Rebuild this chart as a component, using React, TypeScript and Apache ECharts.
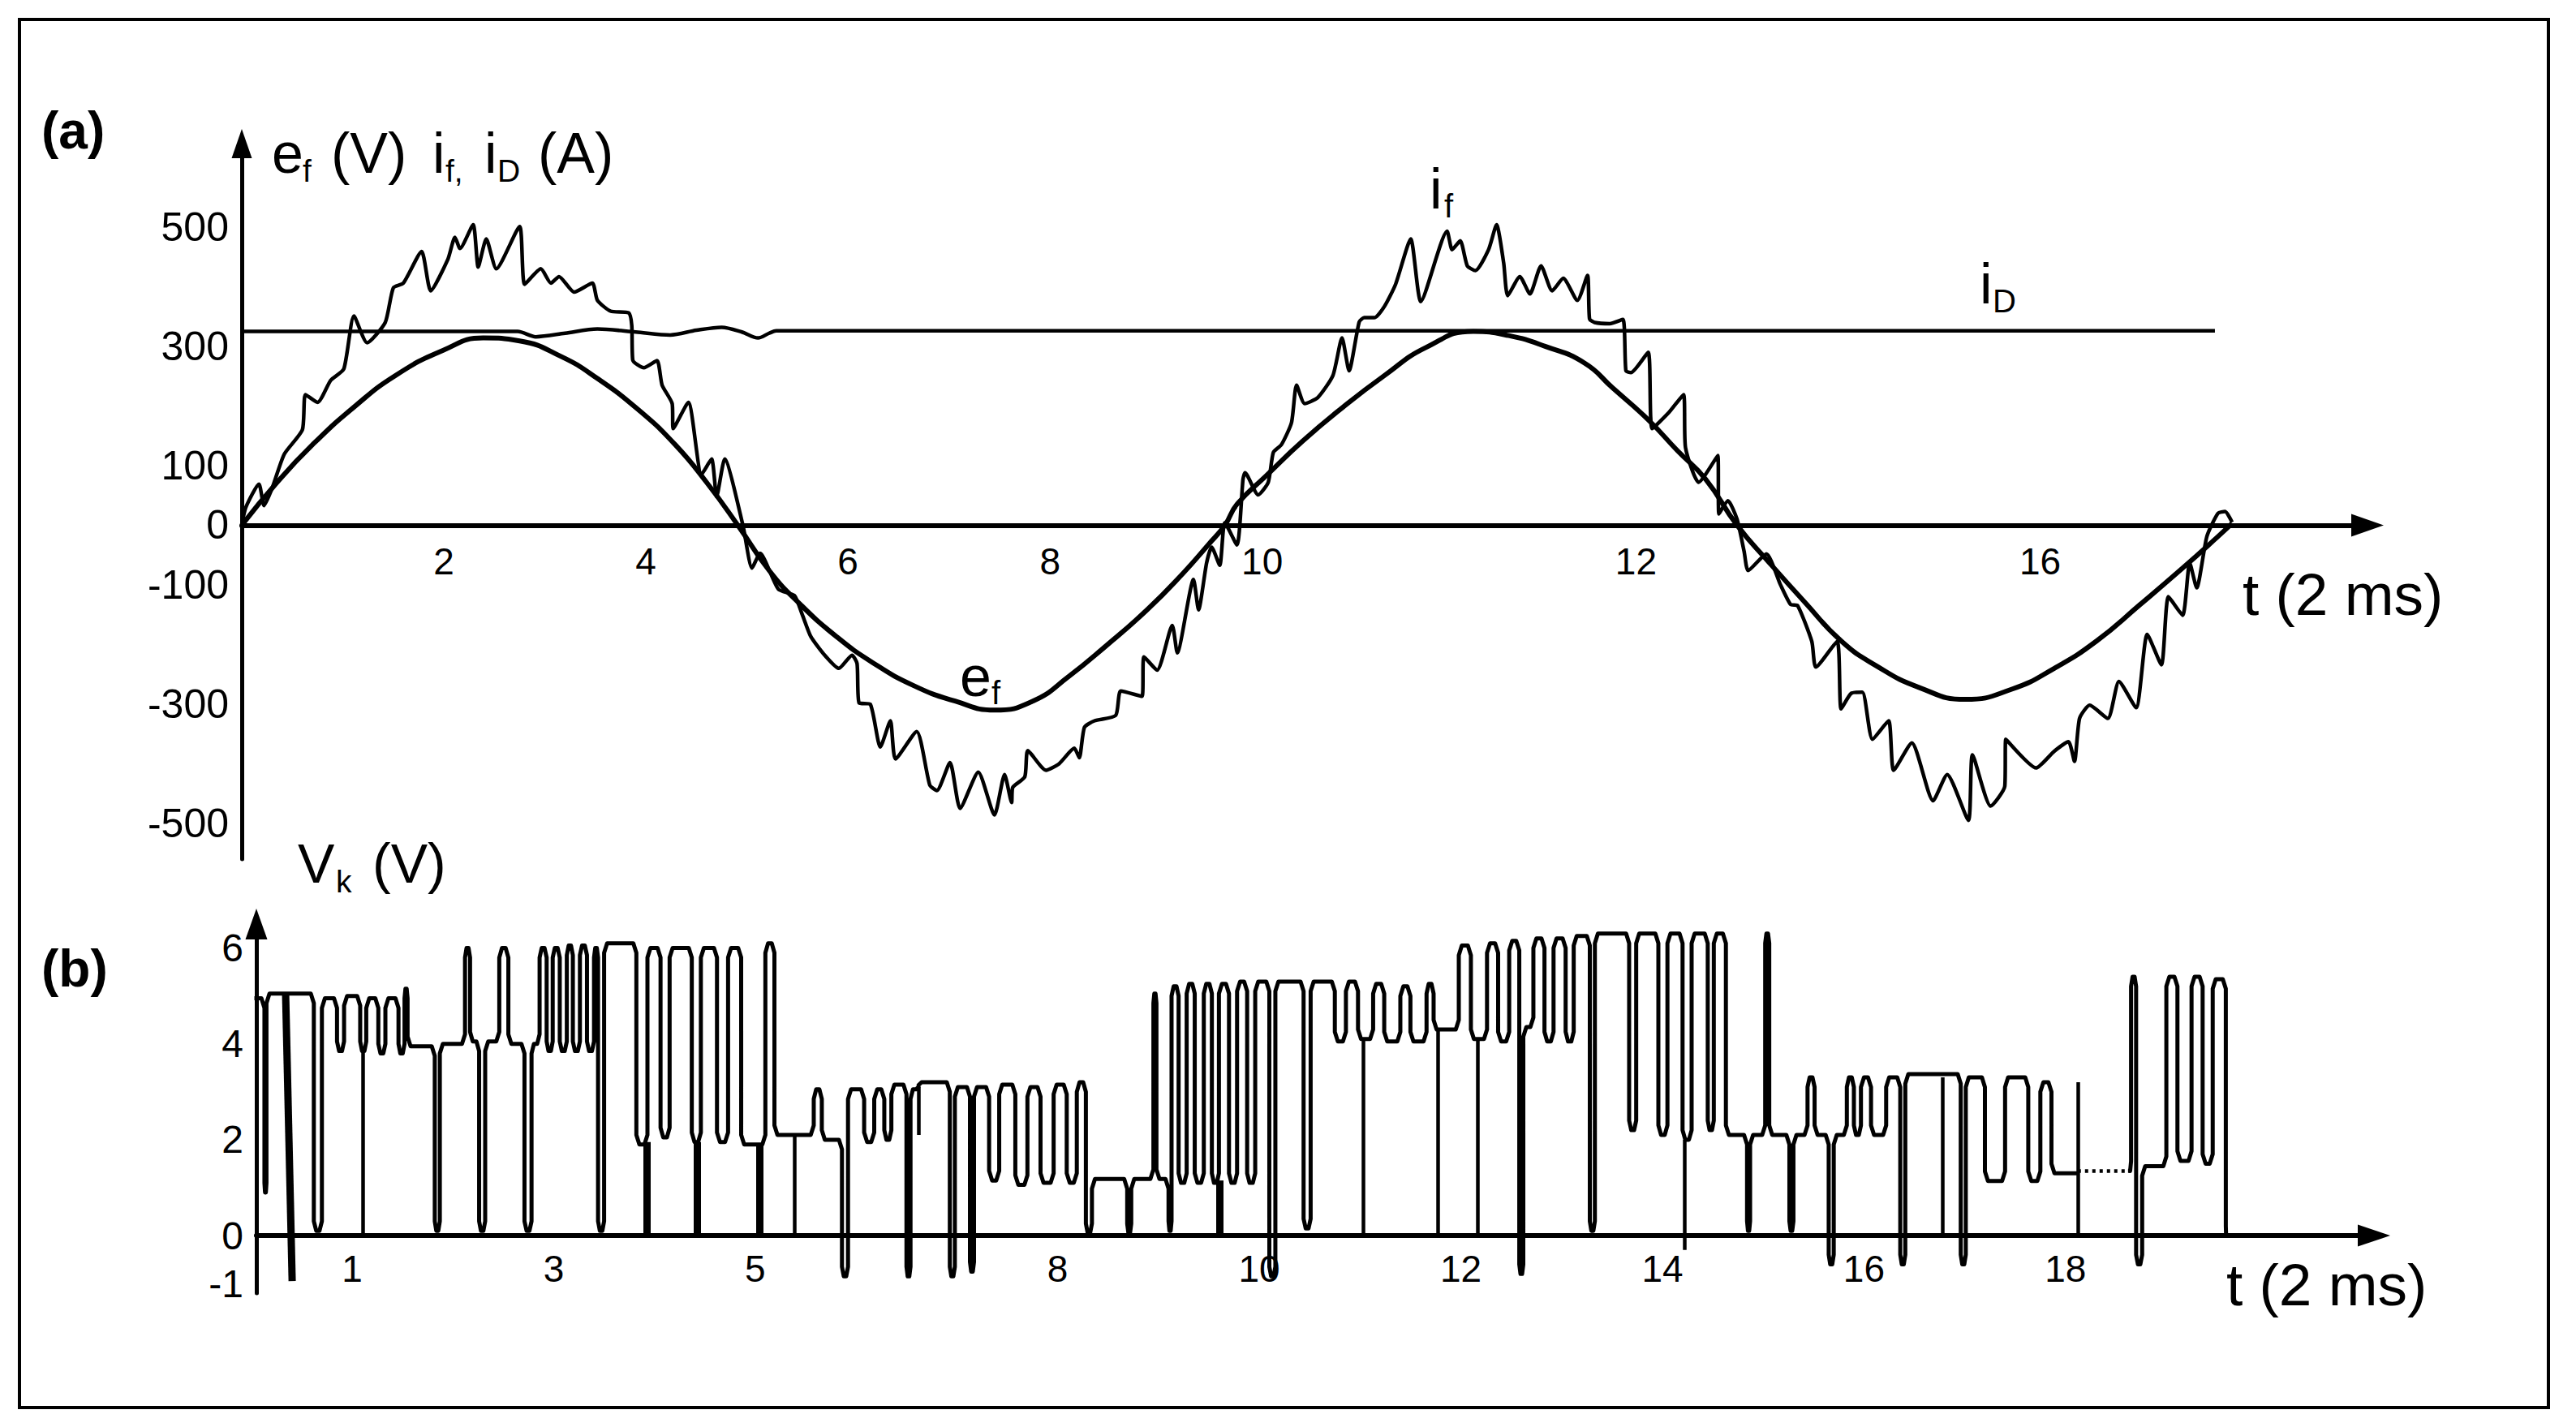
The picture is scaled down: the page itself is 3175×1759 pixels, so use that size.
import React, { useEffect, useRef } from 'react';
import * as echarts from 'echarts';

const FONT = '"Liberation Sans", Arial, Helvetica, sans-serif';

// ---------- Panel (a): e_f (V), i_f, i_D (A) versus t (2 ms) ----------
const efCurve: number[][] = [
  [0, 0], [0.35, 72], [0.7, 135], [1.11, 198], [1.52, 251], [1.99, 293], [2.39, 314], [2.75, 309],
  [3.16, 283], [3.52, 246], [3.93, 193], [4.29, 135], [4.6, 72], [4.91, 0], [5.22, -76], [5.53, -133],
  [5.88, -186], [6.24, -230], [6.65, -269], [7.06, -295], [7.45, -310], [7.83, -295], [8.19, -253],
  [8.55, -203], [8.96, -142], [9.32, -80], [9.57, -32], [9.73, 0], [9.85, 35], [10.14, 83], [10.5, 141],
  [10.9, 198], [11.31, 251], [11.72, 298], [12.19, 325], [12.54, 318], [12.9, 300], [13.29, 272],
  [13.57, 230], [13.92, 177], [14.21, 125], [14.49, 77], [14.8, 0], [15.12, -63], [15.47, -129],
  [15.83, -194], [16.18, -236], [16.6, -272], [17.06, -292], [17.52, -275], [17.94, -240], [18.36, -194],
  [18.79, -133], [19.21, -72], [19.56, -19], [19.7, 3],
];

const ifCurve: number[][] = [
  [0, 0], [0.04, 30], [0.17, 69], [0.22, 33], [0.3, 62], [0.42, 119], [0.6, 160], [0.63, 219], [0.75, 206],
  [0.88, 243], [1.01, 262], [1.11, 351], [1.24, 306], [1.42, 340], [1.5, 398], [1.6, 406], [1.78, 459],
  [1.87, 393], [2.04, 446], [2.11, 483], [2.16, 464], [2.29, 504], [2.34, 433], [2.42, 480], [2.52, 430],
  [2.75, 501], [2.8, 404], [2.96, 430], [3.06, 406], [3.14, 417], [3.29, 391], [3.47, 406], [3.52, 377],
  [3.65, 359], [3.83, 356], [3.86, 335], [3.87, 277], [3.98, 264], [4.11, 276], [4.16, 235], [4.26, 204],
  [4.27, 162], [4.42, 206], [4.55, 85], [4.65, 111], [4.7, 48], [4.78, 111], [4.96, 0],
  [5.05, -72], [5.13, -47], [5.31, -107], [5.47, -118], [5.55, -151], [5.63, -186], [5.76, -216],
  [5.91, -240], [6.04, -218], [6.09, -232], [6.11, -298], [6.22, -300], [6.32, -372], [6.42, -328],
  [6.47, -392], [6.68, -346], [6.81, -436], [6.88, -445], [7.01, -398], [7.11, -475], [7.29, -414],
  [7.45, -486], [7.55, -418], [7.62, -465], [7.63, -440], [7.75, -422], [7.78, -378], [7.96, -411],
  [8.09, -400], [8.24, -374], [8.29, -390], [8.34, -339], [8.44, -328], [8.65, -319], [8.7, -278],
  [8.91, -287], [8.93, -221], [9.06, -243], [9.21, -168], [9.26, -214], [9.42, -91], [9.47, -142],
  [9.55, -63], [9.6, -37], [9.68, -67], [9.73, 4],
  [9.85, -33], [9.91, 77], [9.93, 88], [10.06, 51], [10.16, 72], [10.21, 122], [10.29, 135], [10.39, 172],
  [10.44, 235], [10.52, 204], [10.65, 214], [10.8, 251], [10.89, 314], [10.96, 259], [11.06, 341],
  [11.11, 348], [11.21, 348], [11.31, 367], [11.42, 404], [11.57, 480], [11.67, 375], [11.93, 493],
  [11.98, 462], [12.06, 477], [12.13, 435], [12.21, 427], [12.34, 462], [12.42, 504], [12.49, 440],
  [12.53, 385], [12.65, 417], [12.75, 388], [12.86, 435], [12.97, 393], [13.08, 414], [13.22, 377],
  [13.32, 419], [13.34, 346], [13.39, 340], [13.54, 338], [13.67, 345], [13.7, 259], [13.75, 256],
  [13.92, 290], [13.96, 162], [14.13, 190], [14.27, 219], [14.29, 130], [14.42, 72], [14.61, 117],
  [14.62, 19], [14.71, 41], [14.8, 10], [14.87, -44], [14.91, -76], [15.09, -48], [15.23, -100],
  [15.33, -133], [15.4, -135], [15.54, -195], [15.58, -238], [15.79, -195], [15.83, -308], [15.93, -282],
  [16.04, -280], [16.14, -359], [16.3, -328], [16.35, -411], [16.53, -365], [16.74, -462], [16.88, -418],
  [17.09, -495], [17.13, -385], [17.31, -471], [17.45, -438], [17.46, -359], [17.76, -407], [17.94, -379],
  [18.08, -363], [18.14, -396], [18.19, -324], [18.29, -302], [18.47, -324], [18.58, -262], [18.75, -306],
  [18.86, -183], [19.0, -234], [19.07, -120], [19.21, -151], [19.28, -63], [19.35, -105], [19.45, -19],
  [19.56, 20], [19.63, 23], [19.7, 5],
];

const iDCurve: number[][] = [
  [0, 325], [2.73, 325], [2.91, 316], [3.2, 322], [3.52, 329], [3.9, 324], [4.24, 319], [4.5, 327],
  [4.75, 332], [4.95, 324], [5.11, 314], [5.22, 322], [5.29, 326], [19.53, 326],
];

const aYTicks = [500, 300, 100, 0, -100, -300, -500];
const aXTickPos = [2, 4, 6, 8, 10.1, 13.8, 17.8];
const aXTickText = ['2', '4', '6', '8', '10', '12', '16'];

// ---------- Panel (b): V_k (V) versus t (2 ms) ----------
// [start time, level] plateaus of the switching waveform
const vkStepsA: number[][] = [
  [0.03, 4.95], [0.13, 0.9], [0.15, 5.05], [0.62, 0.1], [0.7, 4.95], [0.85, 3.85], [0.92, 5.0], [1.08, 3.85],
  [1.14, 4.95], [1.26, 3.8], [1.33, 4.95], [1.46, 3.8], [1.52, 5.15], [1.55, 3.95], [1.82, 0.1], [1.87, 4.0],
  [2.12, 6.0], [2.17, 4.05], [2.26, 0.1], [2.32, 4.05], [2.46, 6.0], [2.55, 4.0], [2.71, 0.1], [2.78, 4.0],
  [2.86, 6.0], [2.93, 3.85], [2.99, 6.0], [3.06, 3.85], [3.13, 6.05], [3.19, 3.85], [3.26, 6.05], [3.33, 3.85],
  [3.4, 6.0], [3.44, 0.1], [3.5, 6.1], [3.82, 1.9], [3.93, 6.0], [4.06, 2.05], [4.15, 6.0], [4.37, 1.95],
  [4.46, 6.0], [4.62, 1.95], [4.73, 6.0], [4.86, 1.9], [5.1, 6.1], [5.19, 2.1], [5.58, 3.05], [5.66, 2.0],
  [5.86, -0.85], [5.92, 3.05], [6.08, 1.95], [6.18, 3.05], [6.28, 2.0], [6.35, 3.15], [6.5, -0.85],
  [6.54, 3.05], [6.62, 3.2], [6.93, -0.85], [6.98, 3.1], [7.13, -0.75], [7.17, 3.1], [7.32, 1.15],
  [7.42, 3.15], [7.58, 1.06], [7.7, 3.1], [7.83, 1.1], [7.96, 3.15], [8.09, 1.1], [8.19, 3.2], [8.28, 0.05],
  [8.34, 1.18], [8.69, 0.05], [8.73, 1.18], [8.95, 5.05], [8.98, 1.18], [9.1, 0.1], [9.13, 5.2], [9.2, 1.1],
  [9.28, 5.25], [9.36, 1.1], [9.45, 5.25], [9.53, 1.1], [9.6, 5.25], [9.7, 1.1], [9.78, 5.3], [9.88, 1.1],
  [9.96, 5.3], [10.1, -0.85], [10.16, 5.3], [10.44, 0.15], [10.51, 5.3], [10.75, 4.05], [10.86, 5.3],
  [10.98, 4.1], [11.13, 5.25], [11.24, 4.05], [11.4, 5.2], [11.5, 4.05], [11.66, 5.25], [11.73, 4.3],
  [11.98, 6.05], [12.1, 4.1], [12.26, 6.1], [12.37, 4.05], [12.48, 6.15], [12.58, -0.8], [12.62, 4.35],
  [12.72, 6.2], [12.83, 4.05], [12.92, 6.2], [13.04, 4.05], [13.12, 6.25], [13.28, 0.1], [13.33, 6.3],
  [13.67, 2.2], [13.74, 6.3], [13.96, 2.1], [14.05, 6.3], [14.2, 2.0], [14.29, 6.3], [14.45, 2.2],
  [14.51, 6.3], [14.63, 2.1], [14.84, 0.1], [14.87, 2.1], [15.02, 6.3], [15.06, 2.1], [15.26, 0.1],
  [15.3, 2.1], [15.44, 3.3], [15.51, 2.1], [15.65, -0.6], [15.7, 2.1], [15.83, 3.3], [15.9, 2.1],
  [15.97, 3.3], [16.07, 2.1], [16.22, 3.3], [16.36, -0.6], [16.41, 3.37], [16.96, -0.6], [17.01, 3.3],
  [17.2, 1.14], [17.4, 3.3], [17.63, 1.14], [17.75, 3.2], [17.86, 1.3],
];
const vkEndA = 18.12;
const vkStepsB: number[][] = [
  [18.62, 1.35], [18.65, 5.4], [18.7, -0.6], [18.76, 1.45], [19.0, 5.4], [19.11, 1.56], [19.25, 5.4],
  [19.36, 1.5], [19.46, 5.35], [19.59, 0],
];
const vkEndB = 19.6;
// [time, top level, bottom level] single vertical strokes
const vkThinSpikes: number[][] = [
  [1.11, 3.85, 0], [5.39, 2.1, 0], [6.62, 3.1, 2.1], [11.03, 4.1, 0], [11.77, 4.3, 0], [12.17, 4.1, 0],
  [14.22, 2.0, -0.3], [16.78, 3.3, 0.05], [18.12, 3.2, 0],
];
const vkThickSpikes: number[][] = [[3.92, 1.95, 0], [4.42, 1.95, 0], [5.04, 1.9, 0], [9.61, 1.15, 0]];
const vkSlant: number[][] = [[0.34, 5.05], [0.405, -0.95]];
const vkDotted: number[][] = [[18.12, 1.35], [18.65, 1.35]];

const bYTicks = [6, 4, 2, 0, -1];
const bXTicks = [1, 3, 5, 8, 10, 12, 14, 16, 18];

// axis ranges
const aXRange = [0, 21.04];
const aYRange = [-560, 640];
const bXRange = [0.05, 21.06];
const bYRange = [-1.2, 6.5];
const aGrid = { left: 298, top: 177, width: 2620, height: 882 };
const bGrid = { left: 316, top: 1139, width: 2610, height: 455 };

// plateau list -> polyline with slightly rounded corners
function buildSteps(steps: number[][], tEnd: number): number[][] {
  const pts: number[][] = [];
  for (let i = 0; i < steps.length; i++) {
    const ts = steps[i][0];
    const L = steps[i][1];
    const te = i + 1 < steps.length ? steps[i + 1][0] : tEnd;
    const prev = i > 0 ? steps[i - 1][1] : L;
    const next = i + 1 < steps.length ? steps[i + 1][1] : L;
    const w = te - ts;
    const c = Math.min(w * 0.3, 0.03);
    const dp = prev - L;
    const dn = next - L;
    const rp = Math.sign(dp) * Math.min(0.2, Math.abs(dp) * 0.4);
    const rn = Math.sign(dn) * Math.min(0.2, Math.abs(dn) * 0.4);
    pts.push([ts, L + rp], [ts + c, L], [te - c, L], [te, L + rn]);
  }
  return pts;
}

// distance (px) from the grid bottom up to the value 0 of the y axis
function zeroOffset(grid: { top: number; height: number }, yr: number[]) {
  const zeroY = grid.top + (grid.height * yr[1]) / (yr[1] - yr[0]);
  return -(grid.top + grid.height - zeroY);
}

function txt(x: number, baseline: number, text: string, size: number, bold = false) {
  return {
    type: 'text',
    x,
    y: baseline - 0.35 * size,
    silent: true,
    style: {
      text,
      fontSize: size,
      fontFamily: FONT,
      fontWeight: bold ? 'bold' : 'normal',
      fill: '#000',
      align: 'left',
      verticalAlign: 'middle',
      textAlign: 'left',
      textVerticalAlign: 'middle',
    },
  };
}

const labelStyle = (size: number, margin: number) => ({
  fontSize: size,
  fontFamily: FONT,
  color: '#000',
  margin,
});

export default function App() {
  const ref = useRef<HTMLDivElement>(null);
  useEffect(() => {
    if (!ref.current) return;
    const chart = echarts.init(ref.current, undefined, { renderer: 'svg' });
    const black = '#000';
    const option: any = {
      animation: false,
      backgroundColor: '#fff',
      grid: [
        { ...aGrid, containLabel: false, outerBoundsMode: 'none' },
        { ...bGrid, containLabel: false, outerBoundsMode: 'none' },
      ],
      xAxis: [
        {
          gridIndex: 0, type: 'value', min: aXRange[0], max: aXRange[1], position: 'bottom',
          offset: zeroOffset(aGrid, aYRange),
          axisLine: { onZero: false, symbol: ['none', 'triangle'], symbolSize: [28, 40], lineStyle: { color: black, width: 6 } },
          axisTick: { show: false }, splitLine: { show: false },
          axisLabel: {
            ...labelStyle(46, 22),
            customValues: aXTickPos,
            formatter: (v: number) => {
              const i = aXTickPos.findIndex((p) => Math.abs(p - v) < 1e-6);
              return i >= 0 ? aXTickText[i] : '';
            },
          },
        },
        {
          gridIndex: 1, type: 'value', min: bXRange[0], max: bXRange[1], position: 'bottom',
          offset: zeroOffset(bGrid, bYRange),
          axisLine: { onZero: false, symbol: ['none', 'triangle'], symbolSize: [27, 40], lineStyle: { color: black, width: 6 } },
          axisTick: { show: false }, splitLine: { show: false },
          axisLabel: { ...labelStyle(46, 18), customValues: bXTicks },
        },
      ],
      yAxis: [
        {
          gridIndex: 0, type: 'value', min: aYRange[0], max: aYRange[1],
          axisLine: { show: true, onZero: false, symbol: ['none', 'triangle'], symbolSize: [25, 36], lineStyle: { color: black, width: 5 } },
          axisTick: { show: false }, splitLine: { show: false },
          axisLabel: { ...labelStyle(50, 16), customValues: aYTicks },
        },
        {
          gridIndex: 1, type: 'value', min: bYRange[0], max: bYRange[1],
          axisLine: { show: true, onZero: false, symbol: ['none', 'triangle'], symbolSize: [27, 38], lineStyle: { color: black, width: 5 } },
          axisTick: { show: false }, splitLine: { show: false },
          axisLabel: { ...labelStyle(48, 16), customValues: bYTicks },
        },
      ],
      series: [
        {
          name: 'e_f', type: 'line', xAxisIndex: 0, yAxisIndex: 0, data: efCurve, smooth: true,
          symbol: 'none', lineStyle: { color: black, width: 6 }, silent: true,
        },
        {
          name: 'i_f', type: 'line', xAxisIndex: 0, yAxisIndex: 0, data: ifCurve, smooth: 0.2,
          symbol: 'none', lineStyle: { color: black, width: 4.5, join: 'round' }, silent: true,
        },
        {
          name: 'i_D', type: 'line', xAxisIndex: 0, yAxisIndex: 0, data: iDCurve, smooth: 0.3,
          symbol: 'none', lineStyle: { color: black, width: 4.5 }, silent: true,
        },
        {
          name: 'V_k', type: 'line', xAxisIndex: 1, yAxisIndex: 1, data: buildSteps(vkStepsA, vkEndA),
          symbol: 'none', lineStyle: { color: black, width: 5, join: 'round' }, silent: true,
        },
        {
          name: 'V_k end', type: 'line', xAxisIndex: 1, yAxisIndex: 1, data: buildSteps(vkStepsB, vkEndB),
          symbol: 'none', lineStyle: { color: black, width: 5, join: 'round' }, silent: true,
        },
        {
          name: 'V_k thin', type: 'lines', coordinateSystem: 'cartesian2d', xAxisIndex: 1, yAxisIndex: 1,
          data: vkThinSpikes.map(([t, a, b]) => ({ coords: [[t, a], [t, b]] })),
          lineStyle: { color: black, width: 4.5, opacity: 1, curveness: 0 }, silent: true,
        },
        {
          name: 'V_k thick', type: 'lines', coordinateSystem: 'cartesian2d', xAxisIndex: 1, yAxisIndex: 1,
          data: [
            ...vkThickSpikes.map(([t, a, b]) => ({ coords: [[t, a], [t, b]] })),
            { coords: vkSlant },
          ],
          lineStyle: { color: black, width: 9, opacity: 1, curveness: 0 }, silent: true,
        },
        {
          name: 'V_k dotted', type: 'lines', coordinateSystem: 'cartesian2d', xAxisIndex: 1, yAxisIndex: 1,
          data: [{ coords: vkDotted }],
          lineStyle: { color: black, width: 4.5, opacity: 1, type: [4, 5], curveness: 0 }, silent: true,
        },
      ],
      graphic: [
        {
          type: 'rect', silent: true,
          shape: { x: 24, y: 24, width: 3117, height: 1711 },
          style: { fill: 'none', stroke: black, lineWidth: 4 },
        },
        txt(51, 183, '(a)', 64, true),
        txt(51, 1216, '(b)', 64, true),
        // axis title (a)
        txt(335, 213, 'e', 70), txt(373, 224, 'f', 39), txt(408, 213, '(V)', 70),
        txt(533, 213, 'i', 70), txt(549, 224, 'f,', 39), txt(597, 213, 'i', 70), txt(613, 224, 'D', 39),
        txt(663, 213, '(A)', 70),
        txt(2764, 758, 't (2 ms)', 73),
        // curve names
        txt(1762, 257, 'i', 70), txt(1780, 268, 'f', 40),
        txt(2440, 374, 'i', 70), txt(2456, 385, 'D', 40),
        txt(1183, 858, 'e', 70), txt(1222, 868, 'f', 40),
        // axis title (b)
        txt(367, 1088, 'V', 68), txt(414, 1100, 'k', 39), txt(459, 1088, '(V)', 68),
        txt(2744, 1609, 't (2 ms)', 73),
      ],
    };
    chart.setOption(option);
    return () => chart.dispose();
  }, []);
  return (
    <div
      ref={ref}
      style={{ position: 'absolute', left: 0, top: 0, width: '3175px', height: '1759px', background: '#fff' }}
    />
  );
}
